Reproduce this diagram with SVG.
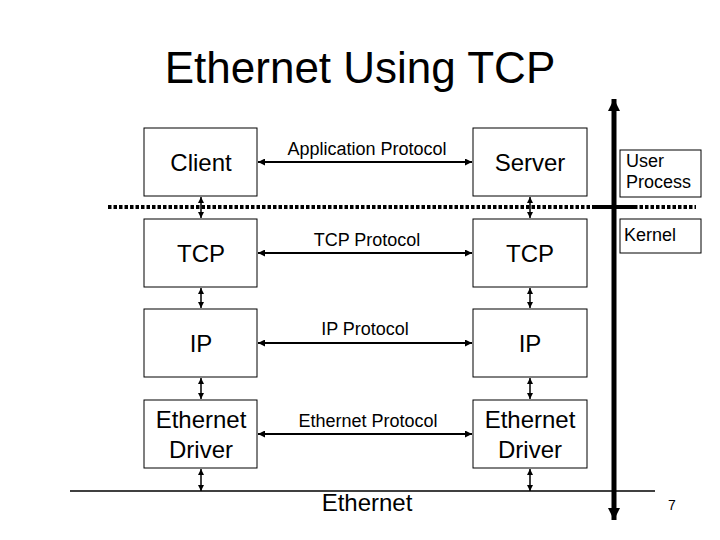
<svg xmlns="http://www.w3.org/2000/svg" width="720" height="540" viewBox="0 0 720 540">
<defs>
<marker id="ah" viewBox="0 0 10 10" refX="10" refY="5" markerWidth="3.5" markerHeight="3.5" orient="auto-start-reverse" markerUnits="strokeWidth"><path d="M0,0 L10,5 L0,10 z" fill="#000"/></marker>
<marker id="ahs" viewBox="0 0 10 10" refX="10" refY="5" markerWidth="4" markerHeight="4" orient="auto-start-reverse" markerUnits="strokeWidth"><path d="M0,0 L10,5 L0,10 z" fill="#000"/></marker>
<marker id="big" viewBox="0 0 10 10" refX="10" refY="5" markerWidth="2.4" markerHeight="2.4" orient="auto-start-reverse" markerUnits="strokeWidth"><path d="M0,0 L10,5 L0,10 z" fill="#000"/></marker>
</defs>
<style>
.box{fill:#fff;stroke:#000;stroke-width:1}
.t{font-family:"Liberation Sans",Arial,sans-serif;fill:#000}
.big{font-size:24px;text-anchor:middle}
.lab{font-size:18px;text-anchor:middle}
.sm{font-size:18px}
.h{stroke:#000;stroke-width:2;fill:none}
.v{stroke:#000;stroke-width:1.5;fill:none}
</style>
<rect width="720" height="540" fill="#fff"/>
<text class="t" x="360" y="83" font-size="44" text-anchor="middle">Ethernet Using TCP</text>

<g id="connectors">
<line x1="108" y1="207" x2="596" y2="207" stroke="#000" stroke-width="4" stroke-dasharray="3.5,2"/>
<line x1="634" y1="207" x2="696" y2="207" stroke="#000" stroke-width="4" stroke-dasharray="3.5,2"/>
<line x1="595" y1="207" x2="634" y2="207" stroke="#000" stroke-width="4"/>
<line x1="614" y1="99" x2="614" y2="520" stroke="#000" stroke-width="5" marker-start="url(#big)" marker-end="url(#big)"/>
<line x1="70" y1="491" x2="655" y2="491" stroke="#000" stroke-width="1.3"/>
<line class="h" x1="258" y1="162" x2="472" y2="162" marker-start="url(#ah)" marker-end="url(#ah)"/>
<line class="h" x1="258" y1="253" x2="472" y2="253" marker-start="url(#ah)" marker-end="url(#ah)"/>
<line class="h" x1="258" y1="343" x2="472" y2="343" marker-start="url(#ah)" marker-end="url(#ah)"/>
<line class="h" x1="258" y1="434" x2="472" y2="434" marker-start="url(#ah)" marker-end="url(#ah)"/>
<line class="v" x1="201" y1="197" x2="201" y2="218" marker-start="url(#ahs)" marker-end="url(#ahs)"/>
<line class="v" x1="201" y1="288" x2="201" y2="308" marker-start="url(#ahs)" marker-end="url(#ahs)"/>
<line class="v" x1="201" y1="378" x2="201" y2="399" marker-start="url(#ahs)" marker-end="url(#ahs)"/>
<line class="v" x1="201" y1="469" x2="201" y2="491" marker-start="url(#ahs)" marker-end="url(#ahs)"/>
<line class="v" x1="530" y1="197" x2="530" y2="218" marker-start="url(#ahs)" marker-end="url(#ahs)"/>
<line class="v" x1="530" y1="288" x2="530" y2="308" marker-start="url(#ahs)" marker-end="url(#ahs)"/>
<line class="v" x1="530" y1="378" x2="530" y2="399" marker-start="url(#ahs)" marker-end="url(#ahs)"/>
<line class="v" x1="530" y1="469" x2="530" y2="491" marker-start="url(#ahs)" marker-end="url(#ahs)"/>
<text class="t lab" x="367" y="155">Application Protocol</text>
<text class="t lab" x="367" y="246">TCP Protocol</text>
<text class="t lab" x="365" y="335">IP Protocol</text>
<text class="t lab" x="368" y="427">Ethernet Protocol</text>
</g>

<g id="client"><rect class="box" x="144" y="128" width="113" height="68"/><text class="t big" x="201" y="171">Client</text></g>
<g id="tcp-left"><rect class="box" x="144" y="219" width="113" height="68"/><text class="t big" x="201" y="262">TCP</text></g>
<g id="ip-left"><rect class="box" x="144" y="309" width="113" height="68"/><text class="t big" x="201" y="352">IP</text></g>
<g id="eth-left"><rect class="box" x="144" y="400" width="113" height="68"/><text class="t big" x="201" y="428">Ethernet</text><text class="t big" x="201" y="458">Driver</text></g>

<g id="server"><rect class="box" x="473" y="128" width="114" height="68"/><text class="t big" x="530" y="171">Server</text></g>
<g id="tcp-right"><rect class="box" x="473" y="219" width="114" height="68"/><text class="t big" x="530" y="262">TCP</text></g>
<g id="ip-right"><rect class="box" x="473" y="309" width="114" height="68"/><text class="t big" x="530" y="352">IP</text></g>
<g id="eth-right"><rect class="box" x="473" y="400" width="114" height="68"/><text class="t big" x="530" y="428">Ethernet</text><text class="t big" x="530" y="458">Driver</text></g>

<g id="user-process"><rect class="box" x="620" y="150" width="81" height="47"/><text class="t sm" x="626" y="167">User</text><text class="t sm" x="626" y="188">Process</text></g>
<g id="kernel"><rect class="box" x="620" y="219" width="81" height="34"/><text class="t sm" x="624" y="241">Kernel</text></g>

<text class="t" x="367" y="511" font-size="24" text-anchor="middle">Ethernet</text>
<text class="t" x="672" y="510" font-size="14" text-anchor="middle">7</text>
</svg>
